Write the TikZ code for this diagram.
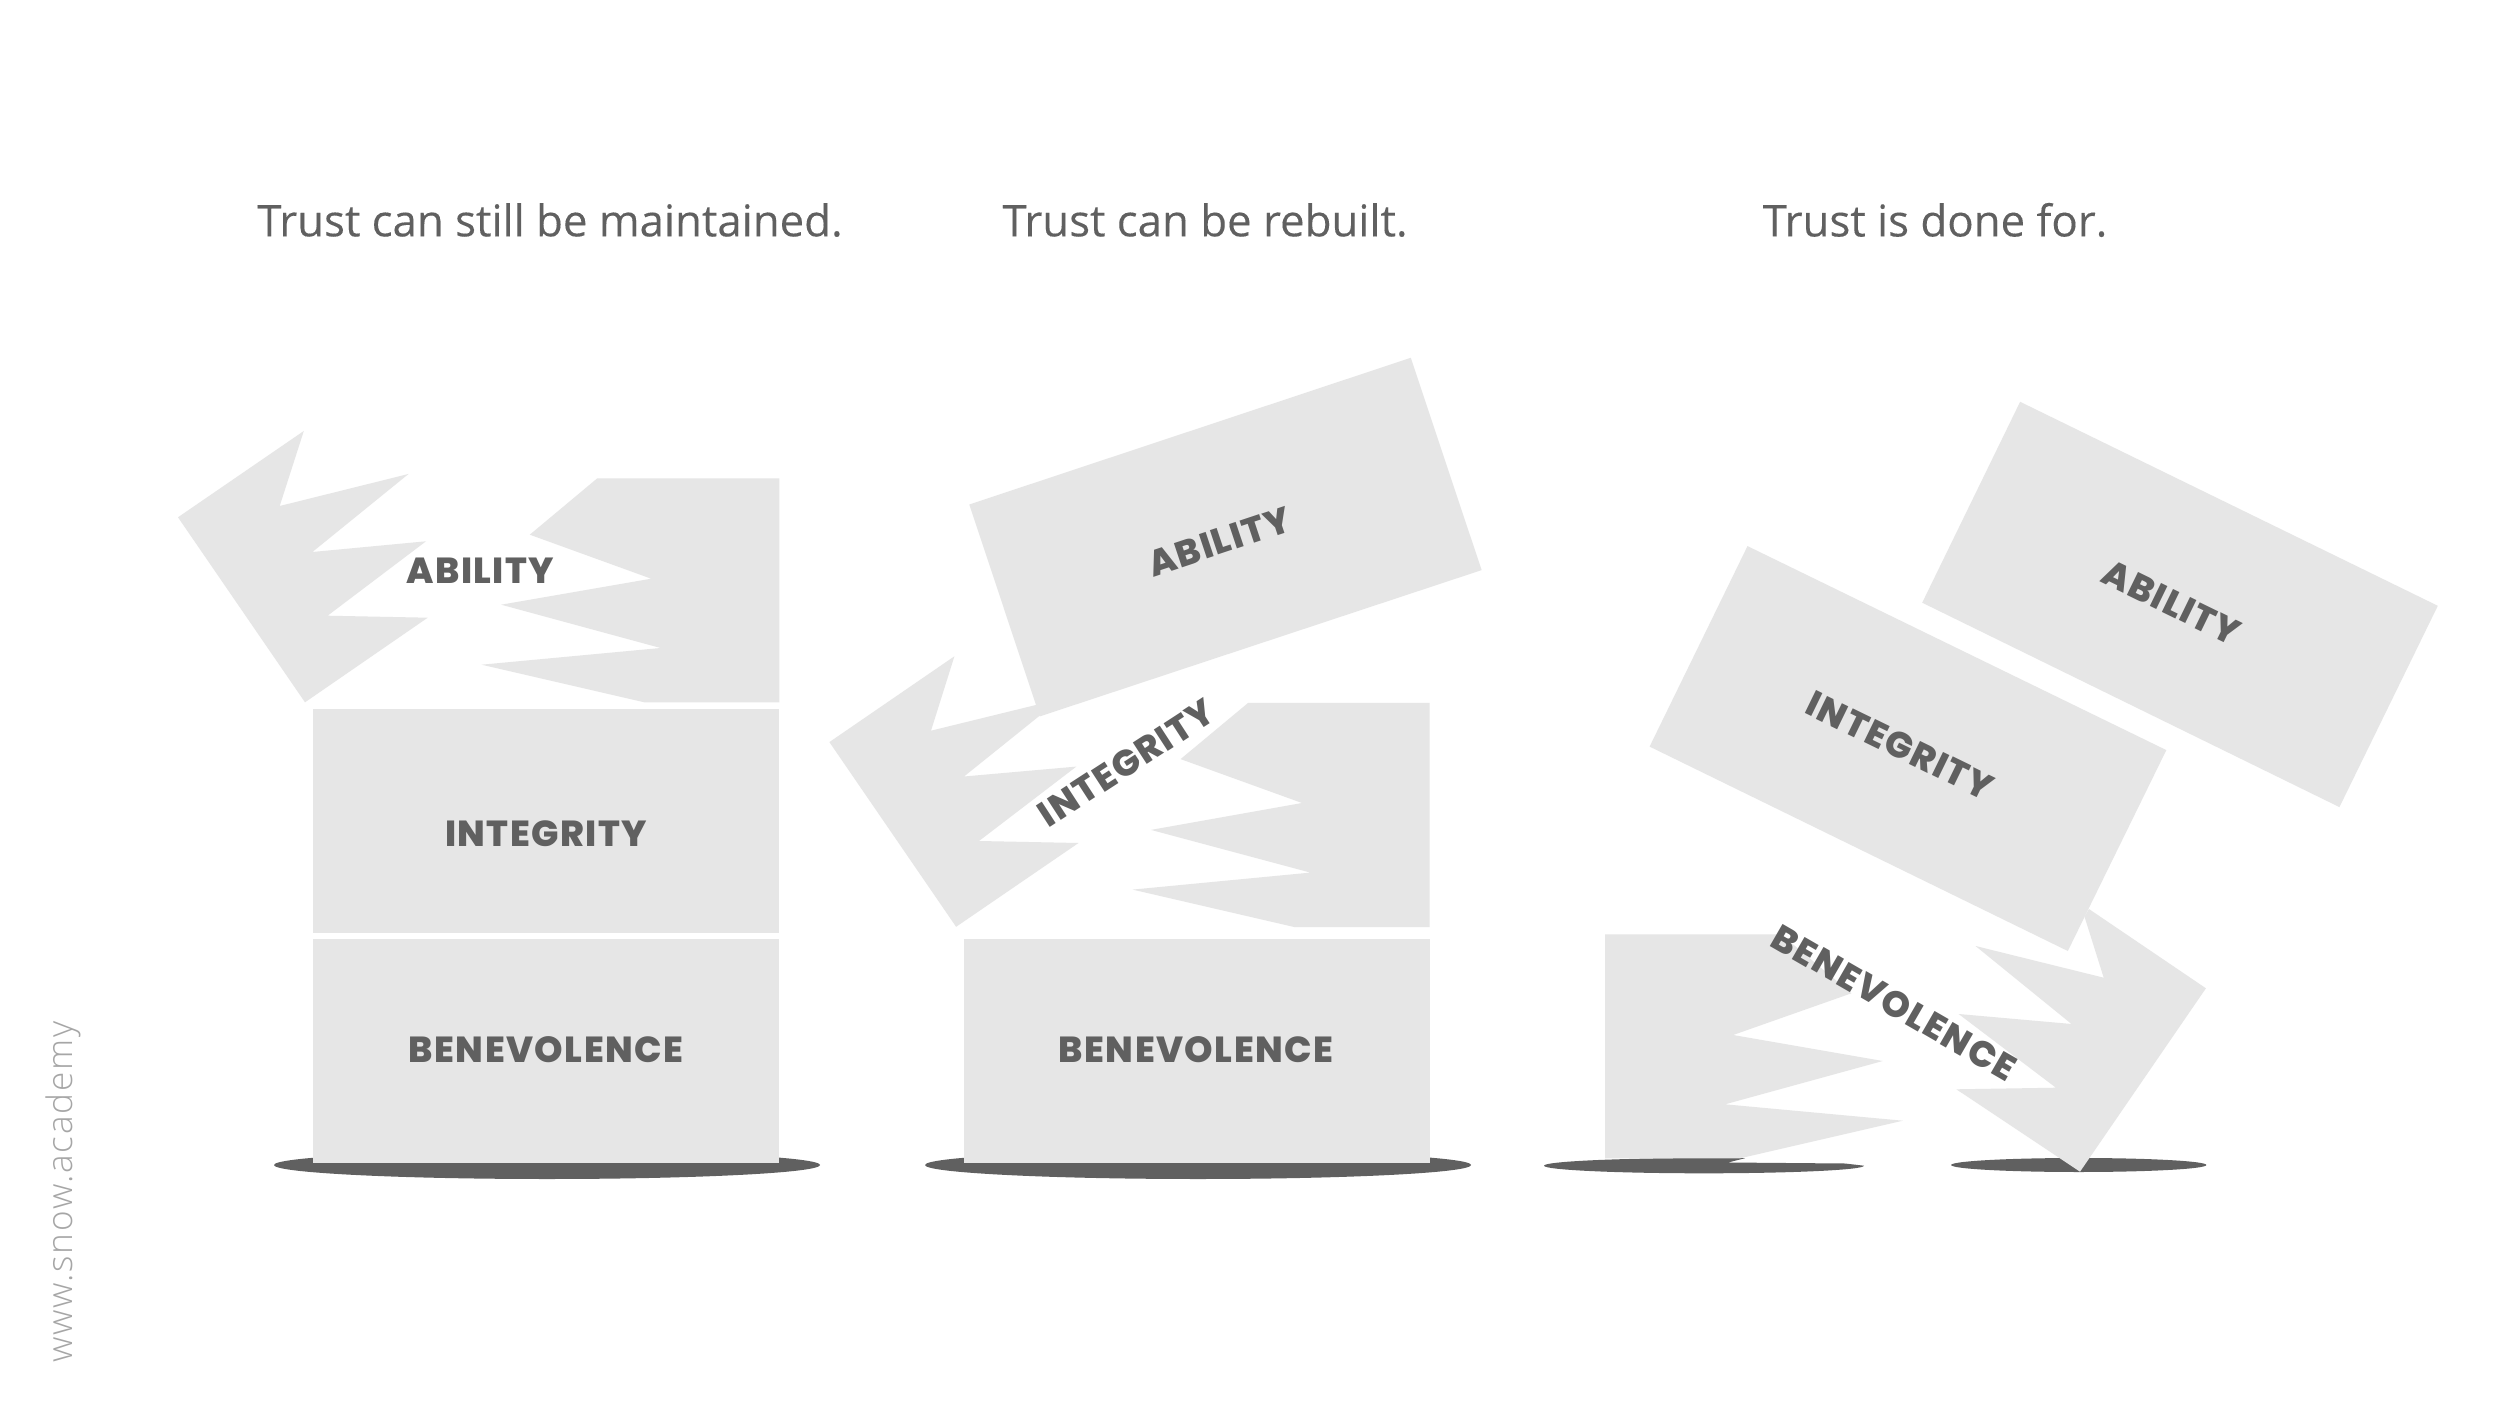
\documentclass[tikz,border=0pt]{standalone}
\usepackage{fontspec}
\setmainfont{Open Sans}
\newfontfamily\headfont[FakeBold=0.15]{Open Sans}
\newfontfamily\blockfont[LetterSpace=4.0]{Poppins ExtraBold}
\newfontfamily\markfont[LetterSpace=5.2]{Open Sans Light}
\definecolor{blockgray}{HTML}{E6E6E6}
\definecolor{inkgray}{HTML}{606060}
\definecolor{markgray}{HTML}{A6A6A6}
\tikzset{
  block/.style={fill=blockgray},
  shadow/.style={fill=inkgray},
  heading/.style={text=inkgray, font=\headfont\fontsize{12.45}{14}\selectfont, inner sep=0pt},
  blocklabel/.style={text=inkgray, font=\blockfont\fontsize{10.3}{12}\selectfont, inner sep=0pt}
}
\begin{document}
\begin{tikzpicture}[x=0.01cm, y=-0.01cm]
\useasboundingbox[fill=white] (0,0) rectangle (2500,1413);
%%%%%%%%%%%%%%%%%%%%%%%%%%%%%%% headings
\node[heading](head1) at (550,220){Trust can still be maintained.};
\node[heading](head2) at (1205,220){Trust can be rebuilt.};
\node[heading](head3) at (1935,220){Trust is done for.};
%%%%%%%%%%%%%%%%%%%%%%%%%%%%%%% first stack
\fill[shadow] (547,1165) ellipse (273 and 14);
\fill[block] (312.6,939.4) rectangle (779.4,1163.3);
\fill[block] (312.6,708.7) rectangle (779.4,932.7);
\fill[block] (303.8,431) -- (279.7,506) -- (408.5,474) -- (312.4,552) -- (426,541.3) -- (327.6,615.7) -- (427.7,617.7) -- (305,702.3) -- (178,517.3) -- cycle;
\fill[block] (597.3,478.3) -- (779.4,478.3) -- (779.4,702.3) -- (644.3,702.3) -- (481.6,664.7) -- (660.6,648) -- (501.2,604.7) -- (651.2,578.7) -- (529.8,534.7) -- cycle;
\node[blocklabel](ability1) at (480.4,571){ABILITY};
\node[blocklabel](integrity1) at (546,834){INTEGRITY};
\node[blocklabel](benevolence1) at (546,1050){BENEVOLENCE};
%%%%%%%%%%%%%%%%%%%%%%%%%%%%%%% second stack
\fill[shadow] (1198,1165) ellipse (273 and 14);
\fill[block] (964,939.4) rectangle (1429.7,1163.3);
\fill[block] (954.4,656.3) -- (931,730.7) -- (1060.4,699) -- (964,776.5) -- (1076.3,766.6) -- (979,841) -- (1078.5,843) -- (956.1,926.8) -- (829.4,742.1) -- cycle;
\fill[block] (1248,703) -- (1429.7,703) -- (1429.7,927.2) -- (1295,927.2) -- (1132.6,889.6) -- (1310.4,872.6) -- (1151,829.9) -- (1302,803) -- (1180.6,759.1) -- cycle;
\fill[block] (1410.8,357.8) -- (1481.6,570.1) -- (1039.8,716.4) -- (969.3,504.5) -- cycle;
\node[blocklabel, rotate=18.4](ability2) at (1219.3,541.7){ABILITY};
\node[blocklabel, rotate=33](integrity2) at (1126.5,763){INTEGRITY};
\node[blocklabel](benevolence2) at (1196,1050){BENEVOLENCE};
%%%%%%%%%%%%%%%%%%%%%%%%%%%%%%% third stack
\fill[shadow] (1544,1165.7) .. controls (1544,1161.5) and (1616,1158.1) .. (1704,1158.1) -- (1745,1158.2) -- (1728,1162.5) -- (1845,1163.5) -- (1864,1165.7) .. controls (1864,1169.9) and (1792,1173.3) .. (1704,1173.3) .. controls (1616,1173.3) and (1544,1169.9) .. (1544,1165.7) -- cycle;
\fill[shadow] (2078.7,1165) ellipse (127.6 and 7);
\fill[block] (1605,934.3) -- (1781,934.3) -- (1851.4,993.3) -- (1733.1,1035) -- (1882.7,1061) -- (1725.1,1104.3) -- (1902.8,1120.7) -- (1740,1158.3) -- (1605,1158.3) -- cycle;
\fill[block] (2088.9,909) -- (2205.9,988.3) -- (2080,1171.7) -- (1956.3,1089.3) -- (2055.9,1087.7) -- (1958.6,1014) -- (2071.5,1024) -- (1975.5,946) -- (2103.7,977.7) -- (2084.5,916.7) -- cycle;
\fill[block] (1747.5,546.1) -- (2166.3,750.1) -- (2067.8,951) -- (1649.6,746.6) -- cycle;
\fill[block] (2020.1,401.8) -- (2437.8,605.8) -- (2339.4,807.1) -- (1922.2,602.7) -- cycle;
\node[blocklabel, rotate=-26](ability3) at (2171.6,602.7){ABILITY};
\node[blocklabel, rotate=-26](integrity3) at (1900,745.5){INTEGRITY};
\node[blocklabel, rotate=-30](benevolence3) at (1893.8,1002.7){BENEVOLENCE};
%%%%%%%%%%%%%%%%%%%%%%%%%%%%%%% side mark
\node[text=markgray, rotate=90, inner sep=0pt, font=\markfont\fontsize{10}{12}\selectfont](mark) at (63,1192){www.snow.academy};
\end{tikzpicture}
\end{document}
